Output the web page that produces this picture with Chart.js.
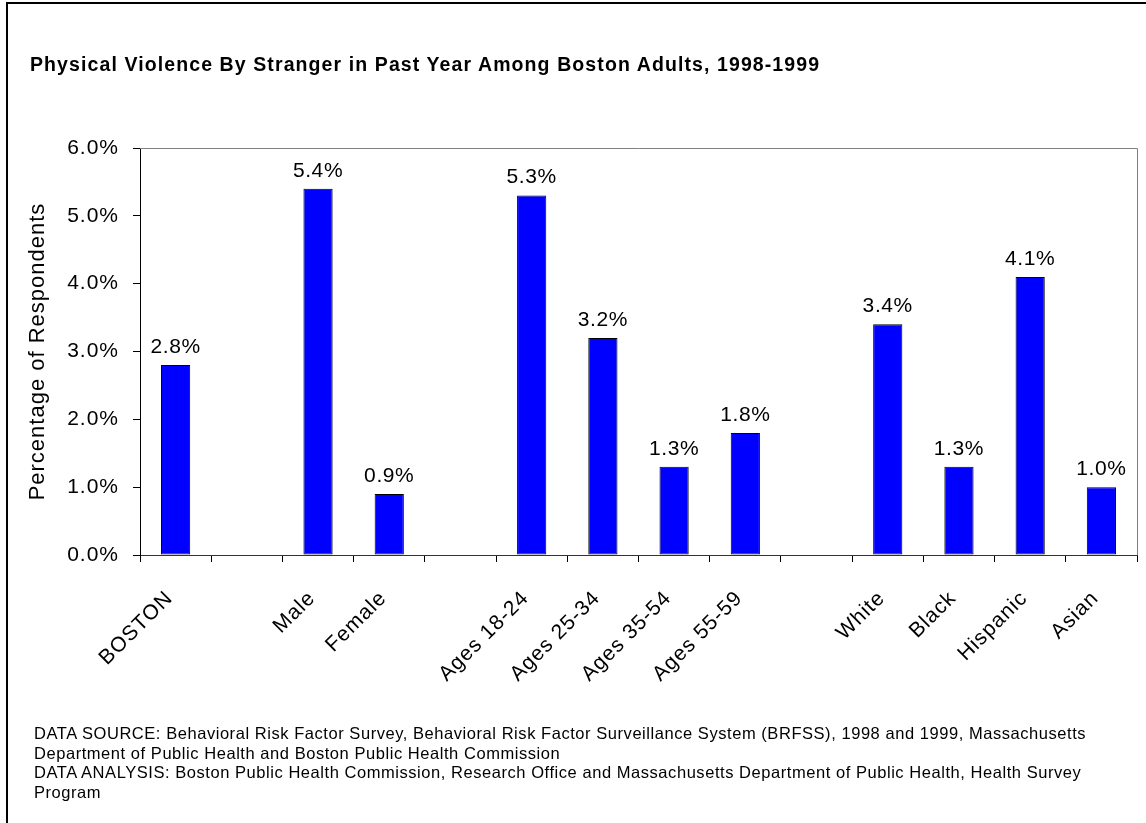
<!DOCTYPE html>
<html>
<head>
<meta charset="utf-8">
<title>Physical Violence By Stranger in Past Year Among Boston Adults, 1998-1999</title>
<script src="https://cdn.jsdelivr.net/npm/chart.js@4.4.0/dist/chart.umd.min.js"></script>
<style>
  html, body { margin: 0; padding: 0; background: #fff; }
  body {
    width: 1146px; height: 823px; position: relative; overflow: hidden;
    font-family: "Liberation Sans", Arial, Helvetica, sans-serif; color: #000;
  }
  #frame {
    position: absolute; left: 6px; top: 2px; width: 1200px; height: 900px;
    border-left: 2px solid #000; border-top: 2px solid #000;
  }
  #chartBox { position: absolute; left: 0; top: 0; width: 1146px; height: 823px; }
  #heading {
    position: absolute; left: 30px; top: 53px; margin: 0;
    font-size: 19.5px; font-weight: bold; letter-spacing: 1.1px; white-space: nowrap;
  }
  #notes {
    position: absolute; left: 34px; top: 724px; margin: 0;
    font-size: 16.5px; line-height: 19.5px; letter-spacing: 0.55px; white-space: nowrap;
  }
</style>
</head>
<body>
<div id="frame"></div>
<div id="chartBox"><canvas id="chart" width="1146" height="823"></canvas></div>
<h1 id="heading">Physical Violence By Stranger in Past Year Among Boston Adults, 1998-1999</h1>
<div id="notes">
  DATA SOURCE: Behavioral Risk Factor Survey, Behavioral Risk Factor Surveillance System (BRFSS), 1998 and 1999, Massachusetts<br>
  Department of Public Health and Boston Public Health Commission<br>
  DATA ANALYSIS: Boston Public Health Commission, Research Office and Massachusetts Department of Public Health, Health Survey<br>
  Program
</div>
<script>
// Groups are separated by empty category slots.
const categories = ['BOSTON', '', 'Male', 'Female', '', 'Ages 18-24', 'Ages 25-34', 'Ages 35-54', 'Ages 55-59', '', 'White', 'Black', 'Hispanic', 'Asian'];
const percentages = [2.8, null, 5.4, 0.9, null, 5.3, 3.2, 1.3, 1.8, null, 3.4, 1.3, 4.1, 1.0];
const yAxisTitle = 'Percentage of Respondents';
const yMin = 0;
const yMax = 6;
const yStep = 1;

const FONT = '"Liberation Sans", Arial, Helvetica, sans-serif';
const pct = v => Number(v).toFixed(1) + '%';

// Slightly open letter spacing for all canvas text.
const textSpacing = {
  id: 'textSpacing',
  afterInit(chart) { chart.ctx.letterSpacing = '1px'; },
  beforeUpdate(chart) { chart.ctx.letterSpacing = '1px'; },
  beforeDraw(chart) { chart.ctx.letterSpacing = '1px'; }
};

// Grey frame on the top and right of the plot area.
const plotFrame = {
  id: 'plotFrame',
  afterDraw(chart) {
    const { ctx, chartArea: a } = chart;
    ctx.save();
    ctx.strokeStyle = '#808080';
    ctx.lineWidth = 1;
    ctx.beginPath();
    ctx.moveTo(a.left, a.top + 0.5);
    ctx.lineTo(a.right + 0.5, a.top + 0.5);
    ctx.lineTo(a.right + 0.5, a.bottom);
    ctx.stroke();
    ctx.restore();
  }
};

// Value labels above each bar.
const valueLabels = {
  id: 'valueLabels',
  afterDatasetsDraw(chart) {
    const { ctx } = chart;
    const meta = chart.getDatasetMeta(0);
    ctx.save();
    ctx.fillStyle = '#000';
    ctx.font = '21px ' + FONT;
    ctx.letterSpacing = '0.6px';
    ctx.textAlign = 'center';
    ctx.textBaseline = 'alphabetic';
    meta.data.forEach((bar, i) => {
      const v = percentages[i];
      if (v === null || v === undefined) return;
      ctx.fillText(pct(v), bar.x, bar.y - 12);
    });
    ctx.restore();
  }
};

new Chart(document.getElementById('chart'), {
  type: 'bar',
  data: {
    labels: categories,
    datasets: [{
      data: percentages,
      backgroundColor: '#0000FF',
      borderColor: '#000',
      borderWidth: 1,
      borderSkipped: false,
      categoryPercentage: 1,
      barPercentage: 0.41
    }]
  },
  options: {
    responsive: false,
    animation: false,
    events: [],
    layout: { padding: { left: 0, right: 9, top: 148, bottom: 0 } },
    plugins: { legend: { display: false }, tooltip: { enabled: false } },
    scales: {
      x: {
        offset: true,
        grid: { offset: true, drawOnChartArea: false, drawTicks: true, tickLength: 7, color: '#000', lineWidth: 1 },
        border: { display: true, color: '#333', width: 1 },
        ticks: {
          autoSkip: false, minRotation: 45, maxRotation: 45, padding: 24, labelOffset: -6,
          color: '#000', font: { family: FONT, size: 21 }
        },
        afterFit(scale) { scale.height = 823 - 555; }
      },
      y: {
        min: yMin, max: yMax,
        grid: { drawOnChartArea: false, drawTicks: true, tickLength: 7, color: '#000' },
        border: { display: true, color: '#000', width: 1 },
        ticks: {
          stepSize: yStep, padding: 14, color: '#000',
          font: { family: FONT, size: 21 },
          callback: v => pct(v)
        },
        title: {
          display: true, text: yAxisTitle, color: '#000',
          font: { family: FONT, size: 22 }, padding: { top: 25, bottom: 0 }
        },
        afterFit(scale) { scale.width = 140; }
      }
    }
  },
  plugins: [textSpacing, plotFrame, valueLabels]
});
</script>
</body>
</html>
